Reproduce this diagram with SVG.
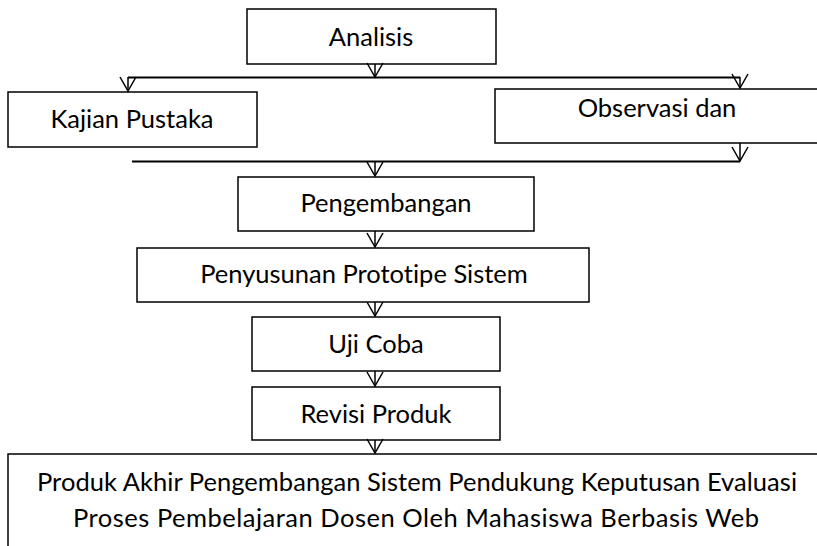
<svg xmlns="http://www.w3.org/2000/svg" width="817" height="546" viewBox="0 0 817 546">
<defs>
<style>
.box{fill:#fff;stroke:#000;stroke-width:1.5}
.t{font-family:Lato,"Open Sans","Liberation Sans",sans-serif;font-size:25.5px;fill:#000;text-anchor:middle;font-variant-ligatures:none}
.ln{stroke:#000;stroke-width:2;fill:none}
.ar{stroke:#000;stroke-width:1.5;fill:none;marker-end:url(#v)}
</style>
<marker id="v" markerUnits="userSpaceOnUse" markerWidth="20" markerHeight="20" viewBox="-16 -10 18 20" refX="0" refY="0" orient="auto" overflow="visible">
<path d="M-14,-8 L0,0 L-14,8" fill="none" stroke="#000" stroke-width="1.5"/>
</marker>
</defs>
<rect width="817" height="546" fill="#fff"/>
<g id="analisis"><rect class="box" x="247" y="9" width="249" height="55"/><text class="t" x="371" y="46">Analisis</text></g>
<g id="kajian"><rect class="box" x="8" y="92" width="249" height="55"/><text class="t" x="132" y="128">Kajian Pustaka</text></g>
<g id="observasi"><rect class="box" x="495" y="89" width="326" height="54"/><text class="t" x="657" y="117">Observasi dan</text></g>
<g id="pengembangan"><rect class="box" x="238" y="177" width="296" height="54"/><text class="t" x="386" y="212">Pengembangan</text></g>
<g id="penyusunan"><rect class="box" x="137" y="248" width="452" height="54"/><text class="t" x="364" y="283">Penyusunan Prototipe Sistem</text></g>
<g id="ujicoba"><rect class="box" x="252" y="317" width="248" height="54"/><text class="t" x="376" y="353">Uji Coba</text></g>
<g id="revisi"><rect class="box" x="252" y="387" width="248" height="53"/><text class="t" x="376" y="423">Revisi Produk</text></g>
<g id="produk"><rect class="box" x="8" y="454" width="822" height="110"/><text class="t" x="417" y="491" textLength="760" lengthAdjust="spacing">Produk Akhir Pengembangan Sistem Pendukung Keputusan Evaluasi</text><text class="t" x="416" y="527" textLength="686" lengthAdjust="spacing">Proses Pembelajaran Dosen Oleh Mahasiswa Berbasis Web</text></g>
<g id="connectors">
<line class="ln" x1="128" y1="77.5" x2="740" y2="77.5"/>
<line class="ln" x1="132" y1="161.5" x2="740" y2="161.5"/>
<line class="ar" x1="375" y1="64" x2="375" y2="77"/>
<line class="ar" x1="128" y1="77" x2="128" y2="91"/>
<line class="ar" x1="740" y1="77" x2="740" y2="88"/>
<line class="ar" x1="740" y1="143" x2="740" y2="161"/>
<line class="ar" x1="375" y1="161" x2="375" y2="176"/>
<line class="ar" x1="375" y1="231" x2="375" y2="247"/>
<line class="ar" x1="375" y1="302" x2="375" y2="316"/>
<line class="ar" x1="375" y1="371" x2="375" y2="386"/>
<line class="ar" x1="375" y1="440" x2="375" y2="453"/>
</g>
</svg>
